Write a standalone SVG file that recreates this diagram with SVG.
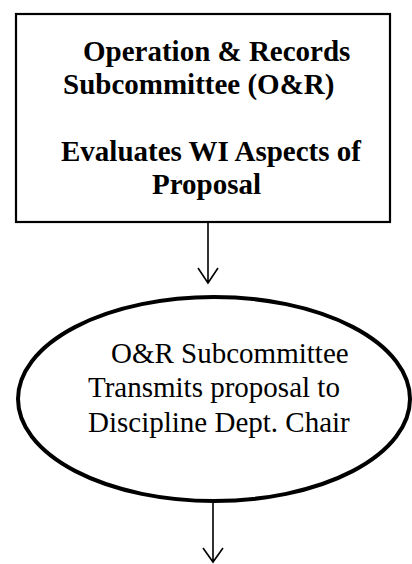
<svg xmlns="http://www.w3.org/2000/svg" width="412" height="564" viewBox="0 0 412 564">
<style>
.b{font-family:"Liberation Serif","Times New Roman",serif;font-weight:bold;font-size:29px;fill:#000}
.r{font-family:"Liberation Serif","Times New Roman",serif;font-size:29px;fill:#000}
.ln{stroke:#000;stroke-width:1.6;fill:none}
</style>
<rect width="412" height="564" fill="#fff"/>
<g id="node-or">
<rect x="16" y="14" width="374" height="208" fill="#fff" stroke="#000" stroke-width="2.2"/>
<text class="b" x="83" y="61">Operation &amp; Records</text>
<text class="b" x="63" y="94">Subcommittee (O&amp;R)</text>
<text class="b" x="61" y="161">Evaluates WI Aspects of</text>
<text class="b" x="152" y="194">Proposal</text>
</g>
<g id="node-transmit">
<ellipse cx="214" cy="399" rx="196" ry="102" fill="#fff" stroke="#000" stroke-width="4"/>
<text class="r" x="111" y="363">O&amp;R Subcommittee</text>
<text class="r" x="88" y="397">Transmits proposal to</text>
<text class="r" x="88" y="432">Discipline Dept. Chair</text>
</g>
<g id="connectors">
<path class="ln" d="M208 222 V283 M198 268 L208 283 L218 268"/>
<path class="ln" d="M213 503 V562 M203 548 L213 562 L223 548"/>
</g>
</svg>
